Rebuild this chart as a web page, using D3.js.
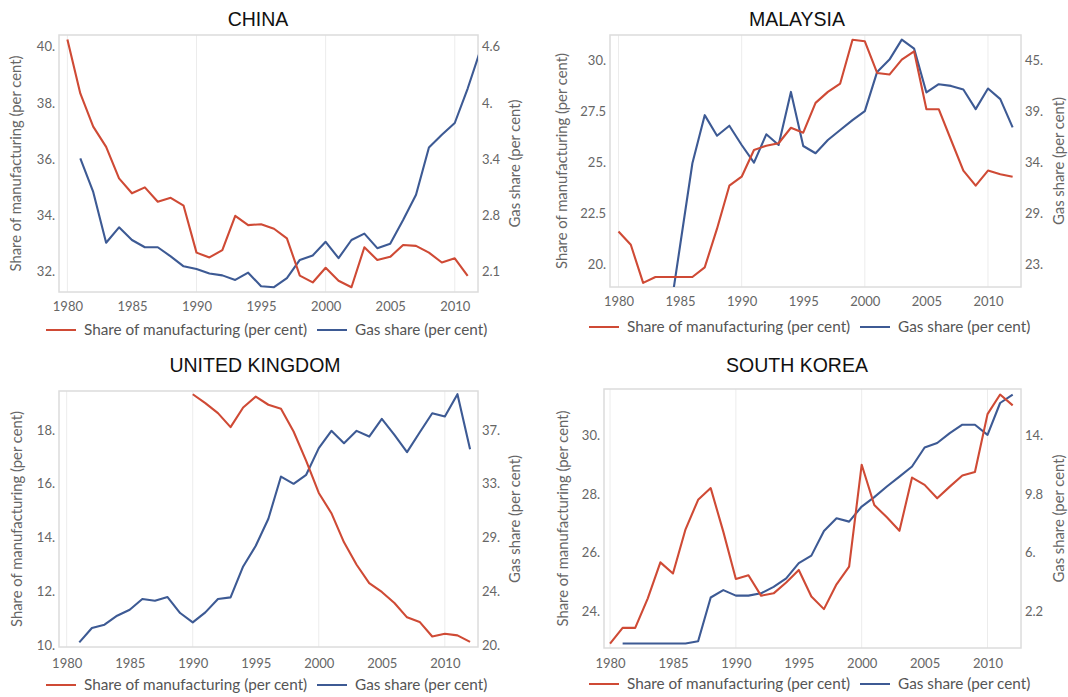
<!DOCTYPE html>
<html>
<head>
<meta charset="utf-8">
<script src="https://cdn.jsdelivr.net/npm/d3@7"></script>
<style>
  body { margin: 0; background: #fff; }
  .tick text { font-family: Lato, "DejaVu Sans", sans-serif; font-size: 13px; fill: #666; }
  .axtitle { font-family: Lato, "DejaVu Sans", sans-serif; font-size: 14.8px; fill: #666; }
  .legend text { font-family: Lato, "DejaVu Sans", sans-serif; font-size: 15.3px; fill: #555; }
  .ptitle { font-family: "Liberation Sans", Arial, sans-serif; font-size: 19.5px; font-weight: 400; fill: #111; }
</style>
</head>
<body>
<svg id="chart" width="1068" height="697"></svg>
<script>
// ---- data ----
const xTicks = [1980, 1985, 1990, 1995, 2000, 2005, 2010];
const decadeLines = [1980, 1990, 2000, 2010];

const chinaMfgYears = [1980,1981,1982,1983,1984,1985,1986,1987,1988,1989,1990,1991,1992,1993,1994,1995,1996,1997,1998,1999,2000,2001,2002,2003,2004,2005,2006,2007,2008,2009,2010,2011];
const chinaMfg = [40.26,38.34,37.16,36.44,35.32,34.79,35.0,34.49,34.63,34.35,32.68,32.51,32.77,33.99,33.66,33.69,33.53,33.19,31.86,31.62,32.14,31.68,31.45,32.87,32.42,32.53,32.95,32.92,32.68,32.33,32.48,31.85];
const chinaGasYears = [1981,1982,1983,1984,1985,1986,1987,1988,1989,1990,1991,1992,1993,1994,1995,1996,1997,1998,1999,2000,2001,2002,2003,2004,2005,2006,2007,2008,2009,2010,2011,2012];
const chinaGas = [3.39,3.02,2.46,2.63,2.49,2.41,2.41,2.31,2.20,2.17,2.12,2.10,2.05,2.13,1.98,1.97,2.07,2.27,2.32,2.47,2.29,2.49,2.56,2.40,2.45,2.71,2.99,3.51,3.65,3.78,4.16,4.59];
const chinaLeftTicks = [32, 34, 36, 38, 40];
const chinaLeftLabels = ["32.", "34.", "36.", "38.", "40."];
const chinaRightTicks = [2.14, 2.76, 3.38, 4.0, 4.62];
const chinaRightLabels = ["2.1", "2.8", "3.4", "4.", "4.6"];

const malaysiaMfgYears = [1980,1981,1982,1983,1984,1985,1986,1987,1988,1989,1990,1991,1992,1993,1994,1995,1996,1997,1998,1999,2000,2001,2002,2003,2004,2005,2006,2007,2008,2009,2010,2011,2012];
const malaysiaMfg = [21.60,20.95,19.08,19.37,19.37,19.37,19.37,19.84,21.74,23.85,24.29,25.60,25.81,25.93,26.69,26.45,27.91,28.45,28.86,31.01,30.93,29.38,29.30,30.03,30.44,27.60,27.60,26.09,24.59,23.85,24.59,24.41,24.29];
const malaysiaGasYears = [1984,1985,1986,1987,1988,1989,1990,1991,1992,1993,1994,1995,1996,1997,1998,1999,2000,2001,2002,2003,2004,2005,2006,2007,2008,2009,2010,2011,2012];
const malaysiaGas = [17.1,25.73,34.39,39.44,37.28,38.33,36.31,34.45,37.43,36.31,41.88,36.2,35.44,36.83,37.88,38.92,39.86,43.98,45.27,47.37,46.42,41.82,42.69,42.51,42.13,40.07,42.24,41.12,38.16];
const malaysiaLeftTicks = [20, 22.5, 25, 27.5, 30];
const malaysiaLeftLabels = ["20.", "22.5", "25.", "27.5", "30."];
const malaysiaRightTicks = [23.8, 29.15, 34.5, 39.85, 45.2];
const malaysiaRightLabels = ["23.", "29.", "34.", "39.", "45."];

const ukMfgYears = [1990,1991,1992,1993,1994,1995,1996,1997,1998,1999,2000,2001,2002,2003,2004,2005,2006,2007,2008,2009,2010,2011,2012];
const ukMfg = [19.32,18.99,18.62,18.10,18.83,19.23,18.93,18.78,17.94,16.85,15.66,14.91,13.83,13.0,12.32,11.99,11.58,11.05,10.88,10.34,10.44,10.38,10.14];
const ukGasYears = [1981,1982,1983,1984,1985,1986,1987,1988,1989,1990,1991,1992,1993,1994,1995,1996,1997,1998,1999,2000,2001,2002,2003,2004,2005,2006,2007,2008,2009,2010,2011,2012];
const ukGas = [20.26,21.39,21.65,22.36,22.83,23.67,23.54,23.83,22.57,21.83,22.62,23.67,23.80,26.24,27.87,30.0,33.32,32.75,33.46,35.56,36.92,35.95,36.92,36.47,37.86,36.61,35.24,36.79,38.31,38.05,39.81,35.48];
const ukLeftTicks = [10, 12, 14, 16, 18];
const ukLeftLabels = ["10.", "12.", "14.", "16.", "18."];
const ukRightTicks = [20, 24.25, 28.5, 32.75, 37];
const ukRightLabels = ["20.", "24.", "29.", "33.", "37."];

const koreaMfgYears = [1980,1981,1982,1983,1984,1985,1986,1987,1988,1989,1990,1991,1992,1993,1994,1995,1996,1997,1998,1999,2000,2001,2002,2003,2004,2005,2006,2007,2008,2009,2010,2011,2012];
const koreaMfg = [22.89,23.43,23.43,24.44,25.67,25.29,26.80,27.81,28.21,26.72,25.10,25.23,24.53,24.61,24.98,25.41,24.5,24.07,24.92,25.52,29.01,27.63,27.21,26.75,28.57,28.32,27.86,28.26,28.64,28.76,30.74,31.41,31.04];
const koreaGasYears = [1981,1982,1983,1984,1985,1986,1987,1988,1989,1990,1991,1992,1993,1994,1995,1996,1997,1998,1999,2000,2001,2002,2003,2004,2005,2006,2007,2008,2009,2010,2011,2012];
const koreaGas = [0.1,0.1,0.1,0.1,0.1,0.1,0.24,3.09,3.57,3.21,3.21,3.36,3.78,4.33,5.32,5.81,7.41,8.24,8.02,9.0,9.61,10.3,10.94,11.6,12.84,13.13,13.77,14.32,14.32,13.66,15.73,16.28];
const koreaLeftTicks = [24, 26, 28, 30];
const koreaLeftLabels = ["24.", "26.", "28.", "30."];
const koreaRightTicks = [2.2, 6.0, 9.8, 13.6];
const koreaRightLabels = ["2.2", "6.", "9.8", "14."];

const RED = "#cf4a35", BLUE = "#3d5a94";

var svg = d3.select("#chart");

function drawPanel(p, i) {
  var x = d3.scaleLinear().domain(p.xDom).range([p.left, p.right]);
  var y = d3.scaleLinear().domain(p.yDom).range([p.bottom, p.top]);
  // right axis is a relabelling of the left one
  var y2 = d3.scaleLinear()
    .domain([p.rTicks[0], p.rTicks[p.rTicks.length - 1]])
    .range([y(p.lTicks[0]), y(p.lTicks[p.lTicks.length - 1])]);

  var g = svg.append("g");

  g.append("text").attr("class", "ptitle")
    .attr("x", p.titleX).attr("y", p.titleY)
    .attr("text-anchor", "middle").text(p.title);

  g.append("clipPath").attr("id", "clip" + i)
    .append("rect")
    .attr("x", p.left).attr("y", p.top)
    .attr("width", p.right - p.left).attr("height", p.bottom - p.top);

  // faint decade gridlines
  g.selectAll(".grid").data(decadeLines).enter().append("line")
    .attr("x1", d => x(d)).attr("x2", d => x(d))
    .attr("y1", p.top).attr("y2", p.bottom)
    .attr("stroke", "#ececec").attr("stroke-width", 1);

  g.append("rect")
    .attr("x", p.left).attr("y", p.top)
    .attr("width", p.right - p.left).attr("height", p.bottom - p.top)
    .attr("fill", "none").attr("stroke", "#dcdcdc").attr("stroke-width", 1.5);

  var lineL = d3.line().x(d => x(d[0])).y(d => y(d[1]));
  var lineR = d3.line().x(d => x(d[0])).y(d => y2(d[1]));

  var lines = g.append("g").attr("clip-path", "url(#clip" + i + ")");
  lines.append("path")
    .datum(d3.zip(p.gasYears, p.gas))
    .attr("d", lineR).attr("fill", "none")
    .attr("stroke", BLUE).attr("stroke-width", 2.1).attr("stroke-linejoin", "round");
  lines.append("path")
    .datum(d3.zip(p.mfgYears, p.mfg))
    .attr("d", lineL).attr("fill", "none")
    .attr("stroke", RED).attr("stroke-width", 2.1).attr("stroke-linejoin", "round");

  // axes
  var ax = g.append("g")
    .attr("transform", "translate(0," + p.bottom + ")")
    .call(d3.axisBottom(x).tickValues(xTicks).tickFormat(d3.format("d")).tickSize(0).tickPadding(p.xPad));
  ax.select(".domain").remove();

  var ay = g.append("g")
    .attr("transform", "translate(" + p.left + ",0)")
    .call(d3.axisLeft(y).tickValues(p.lTicks).tickFormat((d, k) => p.lLabels[k]).tickSize(0).tickPadding(4));
  ay.select(".domain").remove();

  var ay2 = g.append("g")
    .attr("transform", "translate(" + p.right + ",0)")
    .call(d3.axisRight(y2).tickValues(p.rTicks).tickFormat((d, k) => p.rLabels[k]).tickSize(0).tickPadding(4));
  ay2.select(".domain").remove();

  var midY = (p.top + p.bottom) / 2;
  g.append("text").attr("class", "axtitle")
    .attr("transform", "translate(" + p.lTitleX + "," + midY + ") rotate(-90)")
    .attr("text-anchor", "middle").attr("dy", "0.35em")
    .text("Share of manufacturing (per cent)");
  g.append("text").attr("class", "axtitle")
    .attr("transform", "translate(" + p.rTitleX + "," + midY + ") rotate(-90)")
    .attr("text-anchor", "middle").attr("dy", "0.35em")
    .text("Gas share (per cent)");

  // legend
  var lg = g.append("g").attr("class", "legend");
  lg.append("line").attr("x1", p.legX).attr("x2", p.legX + 30)
    .attr("y1", p.legY).attr("y2", p.legY)
    .attr("stroke", RED).attr("stroke-width", 2);
  lg.append("text").attr("x", p.legX + 38).attr("y", p.legY).attr("dy", "0.35em")
    .text("Share of manufacturing (per cent)");
  lg.append("line").attr("x1", p.legX + 271).attr("x2", p.legX + 301)
    .attr("y1", p.legY).attr("y2", p.legY)
    .attr("stroke", BLUE).attr("stroke-width", 2);
  lg.append("text").attr("x", p.legX + 309).attr("y", p.legY).attr("dy", "0.35em")
    .text("Gas share (per cent)");
}

var panels = [
  { title: "CHINA", titleX: 258, titleY: 26,
    left: 59, right: 478, top: 35, bottom: 292, xDom: [1979.35, 2011.8], yDom: [31.28, 40.42], xPad: 10,
    mfgYears: chinaMfgYears, mfg: chinaMfg, gasYears: chinaGasYears, gas: chinaGas,
    lTitleX: 16, rTitleX: 515, legX: 46, legY: 330,
    lTicks: chinaLeftTicks, lLabels: chinaLeftLabels, rTicks: chinaRightTicks, rLabels: chinaRightLabels },
  { title: "MALAYSIA", titleX: 797, titleY: 26,
    left: 610, right: 1021, top: 35, bottom: 287, xDom: [1979.31, 2012.68], yDom: [18.88, 31.24], xPad: 10,
    mfgYears: malaysiaMfgYears, mfg: malaysiaMfg, gasYears: malaysiaGasYears, gas: malaysiaGas,
    lTitleX: 562, rTitleX: 1059, legX: 589, legY: 327,
    lTicks: malaysiaLeftTicks, lLabels: malaysiaLeftLabels, rTicks: malaysiaRightTicks, rLabels: malaysiaRightLabels },
  { title: "UNITED KINGDOM", titleX: 255, titleY: 372,
    left: 59, right: 478, top: 391, bottom: 647, xDom: [1979.39, 2012.63], yDom: [9.95, 19.44], xPad: 12,
    mfgYears: ukMfgYears, mfg: ukMfg, gasYears: ukGasYears, gas: ukGas,
    lTitleX: 17, rTitleX: 515, legX: 46, legY: 685,
    lTicks: ukLeftTicks, lLabels: ukLeftLabels, rTicks: ukRightTicks, rLabels: ukRightLabels },
  { title: "SOUTH KOREA", titleX: 797, titleY: 372,
    left: 604, right: 1021, top: 389, bottom: 648, xDom: [1979.52, 2012.66], yDom: [22.74, 31.60], xPad: 11,
    mfgYears: koreaMfgYears, mfg: koreaMfg, gasYears: koreaGasYears, gas: koreaGas,
    lTitleX: 563, rTitleX: 1059, legX: 589, legY: 684,
    lTicks: koreaLeftTicks, lLabels: koreaLeftLabels, rTicks: koreaRightTicks, rLabels: koreaRightLabels }
];

panels.forEach(drawPanel);
</script>
</body>
</html>
